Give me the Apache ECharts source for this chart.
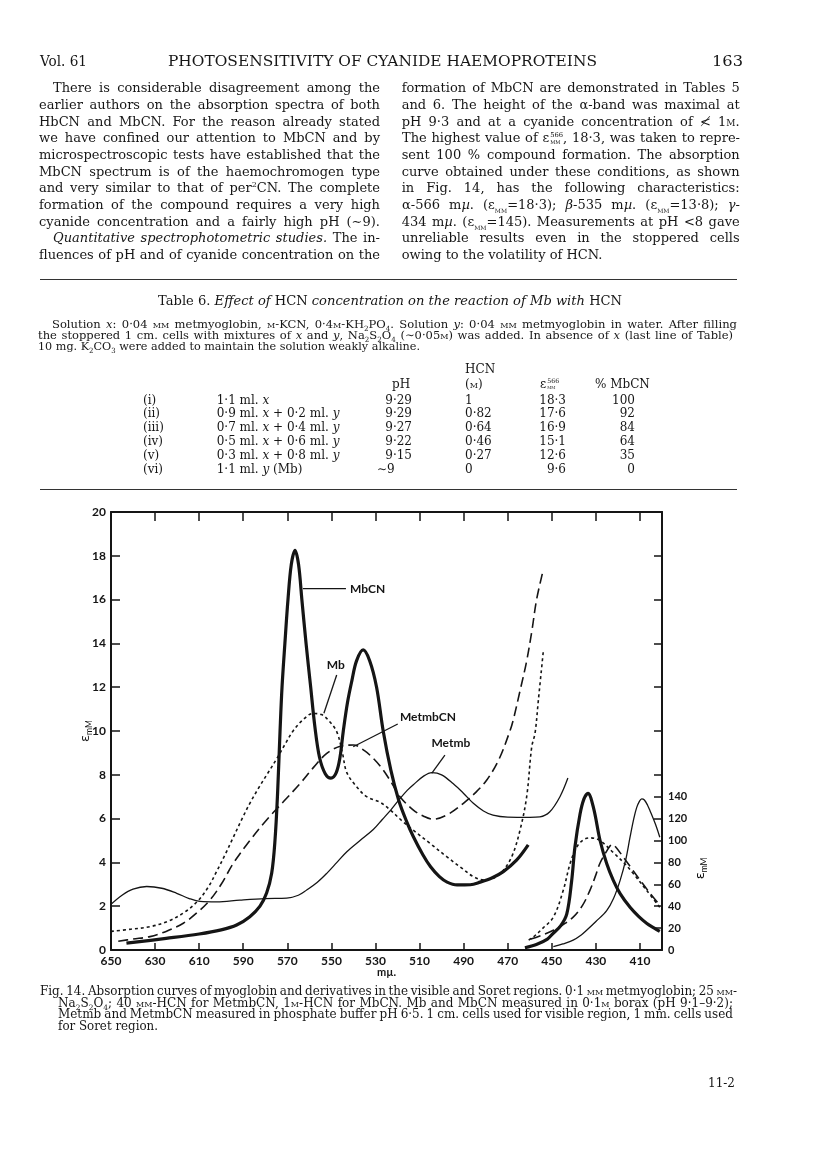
<!DOCTYPE html>
<html><head><meta charset="utf-8">
<script src="https://cdn.jsdelivr.net/npm/echarts@6/dist/echarts.min.js"></script>
<style>
html,body{margin:0;padding:0;background:#fff;}
#page{position:relative;width:816px;height:1155px;overflow:hidden;font-family:"DejaVu Serif",serif;color:#161616;background:#fff;}
#chart{position:absolute;left:0;top:0;width:816px;height:1155px;}
.ln{position:absolute;white-space:nowrap;transform-origin:0 50%;line-height:1;}
.sc{font-variant:small-caps;}
sup,sub{font-size:0.62em;line-height:0;}
.ss{display:inline-flex;flex-direction:column;font-size:0.52em;line-height:1;vertical-align:middle;margin-left:1px;}
.hr{position:absolute;height:0;border-top:1.6px solid #333;}
</style></head>
<body><div id="page"><div id="chart"></div></div>
<script>
// ---------- chart data (wavelength in mµ, εmM) ----------
const xTicks = [650,630,610,590,570,550,530,510,490,470,450,430,410];
const yLeftTicks = [0,2,4,6,8,10,12,14,16,18,20];
const yRightLabels = [0,20,40,60,80,100,120,140];
const yRightTicks = [20,40,60,80,100,120,140,160,200,240,280,320,360];

// visible region (left scale)
const mbcnVis = [[643,0.31],[625,0.53],[610,0.73],[600,0.92],[593,1.14],[587,1.52],[582.4,2.0],[579.4,2.6],[577.1,3.5],[575.6,5.0],[574.4,7.2],[573.3,10],[572.4,12],[571.1,14],[569.7,16],[568.2,17.6],[566.5,18.25],[564.9,17.6],[563.4,16],[561.5,14],[559.4,12],[557.5,10.2],[555.4,8.8],[552.8,8.05],[550.2,7.85],[547.8,8.1],[546.1,8.8],[544.6,10],[542.7,11.3],[540.7,12.3],[538.6,13.2],[535.6,13.7],[532.6,13.2],[529.5,12],[526.5,10],[523,8.2],[519.5,6.85],[516,5.9],[512.8,5.17],[508.5,4.35],[505,3.8],[501,3.35],[497.5,3.1],[493,2.97],[487,2.98],[482.5,3.1],[477,3.3],[472,3.58],[466,4.1],[460.7,4.8]];
const mbVis = [[650,0.85],[641,0.95],[632,1.07],[624,1.32],[617,1.7],[611,2.2],[606,2.85],[602,3.6],[598,4.4],[594.5,5.15],[590.5,6.0],[587,6.7],[583,7.4],[579,8.05],[575,8.7],[571,9.4],[567.4,10.0],[563,10.5],[558.5,10.8],[554.5,10.75],[551,10.45],[547.5,9.95],[545,9.0],[543,8.1],[538.5,7.45],[534,7.0],[528,6.75],[523.4,6.4],[518,5.9],[513,5.48],[505,4.85],[497.7,4.26],[491,3.75],[485.6,3.35],[481,3.2],[476,3.3],[472,3.64],[468,4.3],[464.4,5.48],[461.4,7.0],[459.1,9.28],[457.6,9.9],[456.1,11.4],[453.9,13.6]];
const metmbcnVis = [[646.7,0.4],[640,0.5],[632.3,0.61],[625,0.85],[617.2,1.22],[611,1.7],[605.1,2.28],[600,3.0],[594.5,3.96],[587,5.0],[579.4,5.94],[571.5,6.8],[564.2,7.6],[558,8.35],[552.1,8.98],[546,9.3],[540,9.36],[535,9.1],[530.5,8.7],[526.5,8.22],[522.5,7.6],[518.9,7.0],[512.8,6.39],[508,6.1],[503.8,5.97],[497,6.2],[490.1,6.7],[484.5,7.2],[479.5,7.76],[474,8.7],[469,10.0],[467.5,10.5],[464.5,11.8],[461.4,13.2],[459,14.6],[456.9,16.0],[453.9,17.35]];
const metmbVis = [[650.4,2.05],[645,2.5],[640,2.78],[633.8,2.9],[627,2.82],[620.2,2.59],[614.5,2.35],[609.6,2.22],[602,2.2],[591.5,2.28],[580,2.35],[570.3,2.37],[565,2.5],[561.2,2.74],[556.5,3.08],[552.1,3.5],[547.5,4.0],[543,4.49],[537,5.0],[531,5.5],[527,5.95],[523,6.4],[519,6.9],[515.5,7.3],[512.8,7.55],[508,7.95],[504.4,8.1],[500,8.0],[494.8,7.6],[490,7.15],[485.6,6.7],[481,6.35],[476.7,6.16],[470,6.07],[460,6.06],[455.4,6.08],[451,6.3],[446.3,7.0],[442.7,7.85]];

// Soret region (right scale)
const mbcnSor = [[462.2,2],[457,5],[452,10],[449.5,15],[446,22],[443.2,33],[441,63],[439.5,94],[437.2,124],[435.4,138],[433.6,143],[431.1,130],[428.1,100],[425.1,79],[422.1,63.6],[419,51.5],[414.5,39],[410.5,30.5],[407,24.5],[403.5,20],[401,17]];
const mbSor = [[460.5,9],[458.3,12],[454,20],[449.3,30],[444.8,54.5],[441.7,79],[438.7,94],[435.7,100.6],[432.7,102.4],[428.2,100],[422.1,89],[417,79],[413.1,70],[407,54.5],[401,39]];
const metmbcnSor = [[459.5,10],[454,14],[449.3,18],[445,23],[440.3,30],[436,41],[432.7,54.5],[430.3,67],[428.2,79],[425.8,88],[423.6,95],[422.6,96.5],[421,94],[417.6,85],[414,75],[410,64],[405.5,52],[401,41]];
const metmbSor = [[449.3,3],[445,5.5],[440.3,9],[436.5,14],[434.2,18],[430,26],[425.1,36],[422,47],[419,63.6],[416.5,82],[414.5,103],[412.8,120],[411.5,130],[410.2,136],[409.2,138],[408,137],[406.5,132],[405.4,127],[403,115],[401,103]];

// curve labels and their leader lines (data space, left scale)
const annoText = ['MbCN','Mb','MetmbCN','Metmb'];
const annoAt = [[541.6,16.47],[548.0,13.0],[518.9,10.65],[495.8,9.44]];
const annoAlign = ['left','center','left','center'];
const leaders = [[[562.9,16.5],[543.4,16.5]],[[547.6,12.56],[553.4,10.81]],[[540.1,9.28],[519.9,10.32]],[[498.5,8.9],[504.5,8.07]]];

// ---------- page text ----------
const page = document.getElementById('page');
const sc = s => '<span class="sc">'+s+'</span>';
const epsSub = 'ε<sub class="sc">mm</sub>';
const lines = [
 [40,61.5,47,14,'Vol. 61','s'],
 [168,61.5,429,14,'PHOTOSENSITIVITY OF CYANIDE HAEMOPROTEINS','s'],
 [712,61.5,31,14,'163','s'],
 [53,88.3,327,13,'There is considerable disagreement among the','j'],
 [39,105,341,13,'earlier authors on the absorption spectra of both','j'],
 [39,121.7,341,13,'HbCN and MbCN. For the reason already stated','j'],
 [39,138.3,341,13,'we have confined our attention to MbCN and by','j'],
 [39,155,341,13,'microspectroscopic tests have established that the','j'],
 [39,171.7,341,13,'MbCN spectrum is of the haemochromogen type','j'],
 [39,188.3,341,13,'and very similar to that of per<sup>2</sup>CN. The complete','j'],
 [39,205,341,13,'formation of the compound requires a very high','j'],
 [39,221.7,341,13,'cyanide concentration and a fairly high pH (∼9).','j'],
 [53,238.3,327,13,'<i>Quantitative spectrophotometric studies.</i> The in-','j'],
 [39,255,341,13,'fluences of pH and of cyanide concentration on the','j'],
 [401.7,88.3,338,13,'formation of MbCN are demonstrated in Tables 5','j'],
 [401.7,105,338,13,'and 6. The height of the α-band was maximal at','j'],
 [401.7,121.7,338,13,'pH 9·3 and at a cyanide concentration of ≮ 1'+sc('m')+'.','j'],
 [401.7,138.3,338,13,'The highest value of ε<span class="ss"><span>566</span><span class="sc">mm</span></span>, 18·3, was taken to repre-','j'],
 [401.7,155,338,13,'sent 100 % compound formation. The absorption','j'],
 [401.7,171.7,338,13,'curve obtained under these conditions, as shown','j'],
 [401.7,188.3,338,13,'in Fig. 14, has the following characteristics:','j'],
 [401.7,205,338,13,'α-566 m<i>µ</i>. ('+epsSub+'=18·3); <i>β</i>-535 m<i>µ</i>. ('+epsSub+'=13·8); <i>γ</i>-','j'],
 [401.7,221.7,338,13,'434 m<i>µ</i>. ('+epsSub+'=145). Measurements at pH &lt;8 gave','j'],
 [401.7,238.3,338,13,'unreliable results even in the stoppered cells','j'],
 [401.7,255,0,13,'owing to the volatility of HCN.','n'],
 [158,301,464,13.5,'Table 6. <i>Effect of</i> HCN <i>concentration on the reaction of Mb with</i> HCN','s'],
 [51.7,325,685,11.5,'Solution <i>x</i>: 0·04 '+sc('mm')+' metmyoglobin, '+sc('m')+'-KCN, 0·4'+sc('m')+'-KH<sub>2</sub>PO<sub>4</sub>.  Solution <i>y</i>: 0·04 '+sc('mm')+' metmyoglobin in water.  After filling','j'],
 [38,336.5,695,11.5,'the stoppered 1 cm. cells with mixtures of <i>x</i> and <i>y</i>, Na<sub>2</sub>S<sub>2</sub>O<sub>4</sub> (∼0·05'+sc('m')+') was added.  In absence of <i>x</i> (last line of Table)','j'],
 [38,347.5,382,11.5,'10 mg. K<sub>2</sub>CO<sub>3</sub> were added to maintain the solution weakly alkaline.','s'],
 [40,991.7,697,12,'Fig. 14.  Absorption curves of myoglobin and derivatives in the visible and Soret regions.  0·1 '+sc('mm')+' metmyoglobin; 25 '+sc('mm')+'-','j'],
 [58,1003,675,12,'Na<sub>2</sub>S<sub>2</sub>O<sub>4</sub>; 40 '+sc('mm')+'-HCN for MetmbCN, 1'+sc('m')+'-HCN for MbCN.  Mb and MbCN measured in 0·1'+sc('m')+' borax (pH 9·1–9·2);','j'],
 [58,1014.5,675,12,'Metmb and MetmbCN measured in phosphate buffer pH 6·5.  1 cm. cells used for visible region, 1 mm. cells used','j'],
 [58,1026,100,12,'for Soret region.','s'],
 [708,1084,27,12.5,'11-2','s']
];
// table cells: [x, y, fontSize, html, align]
const tRowsY = [400,413.8,427.6,441.4,455.2,469];
const tRoman = ['(i)','(ii)','(iii)','(iv)','(v)','(vi)'];
const tComp = ['1·1 ml. <i>x</i>','0·9 ml. <i>x</i> + 0·2 ml. <i>y</i>','0·7 ml. <i>x</i> + 0·4 ml. <i>y</i>','0·5 ml. <i>x</i> + 0·6 ml. <i>y</i>','0·3 ml. <i>x</i> + 0·8 ml. <i>y</i>','1·1 ml. <i>y</i> (Mb)'];
const tPH = ['9·29','9·29','9·27','9·22','9·15','∼9'];
const tHCN = ['1','0·82','0·64','0·46','0·27','0'];
const tEps = ['18·3','17·6','16·9','15·1','12·6','9·6'];
const tPct = ['100','92','84','64','35','0'];
const cells = [
 [465,369,12,'HCN','l'],[392,384,12,'pH','l'],[465,384,12,'('+sc('m')+')','l'],
 [540,384,12,'ε<span class="ss"><span>566</span><span class="sc">mm</span></span>','l'],[595,384,12,'% MbCN','l']
];
tRowsY.forEach((y,i)=>{
 cells.push([143,y,12,tRoman[i],'l']);
 cells.push([216.7,y,12,tComp[i],'l']);
 if(i<5) cells.push([412,y,12,tPH[i],'r']); else cells.push([377,y,12,tPH[i],'l']);
 cells.push([465,y,12,tHCN[i],'l']);
 cells.push([566,y,12,tEps[i],'r']);
 cells.push([635,y,12,tPct[i],'r']);
});

function mkDiv(x,y,fs,html){
 const d=document.createElement('div'); d.className='ln';
 d.style.left=x+'px'; d.style.fontSize=fs+'px'; d.style.top=(y-0.53*fs)+'px';
 d.innerHTML=html; page.appendChild(d); return d;
}
lines.forEach(L=>{
 const d=mkDiv(L[0],L[1],L[3],L[4]); const W=L[2];
 if(L[5]==='n' || !W) return;
 let w=d.getBoundingClientRect().width;
 if(L[5]==='j'){
  const n=(d.textContent.match(/ /g)||[]).length;
  let ws=n?(W-w)/n:0; if(ws<-1.2) ws=-1.2; if(ws>8) ws=8;
  d.style.wordSpacing=ws+'px'; w=d.getBoundingClientRect().width;
 }
 d.style.transform='scaleX('+(W/w)+')';
});
cells.forEach(C=>{
 const d=mkDiv(C[0],C[1],C[2],C[3]);
 if(C[4]==='r'){ const w=d.getBoundingClientRect().width; d.style.left=(C[0]-w)+'px'; }
});
[[40,278.5,697],[40,489,697]].forEach(h=>{
 const d=document.createElement('div'); d.className='hr';
 d.style.left=h[0]+'px'; d.style.top=h[1]+'px'; d.style.width=h[2]+'px'; page.appendChild(d);
});

// ---------- chart ----------
const ink='#151515';
const chart=echarts.init(document.getElementById('chart'),null,{renderer:'canvas'});
const lbl={fontFamily:'Lato',fontWeight:'bold',fontSize:12,color:ink};
const nameRich={e:{fontFamily:'DejaVu Sans',fontSize:13,color:ink,lineHeight:16},s:{fontFamily:'Lato',fontSize:8.5,color:ink,verticalAlign:'bottom',lineHeight:13}};
const axLine={show:true,onZero:false,lineStyle:{color:ink,width:2}};
function curve(data,yIdx,width,type){
 return {type:'line',data:data,xAxisIndex:0,yAxisIndex:yIdx,smooth:0.35,symbol:'none',silent:true,
  lineStyle:{color:ink,width:width,type:type,cap:'butt',join:'round'}};
}
const series=[
 curve(metmbVis,0,1.3,'solid'), curve(metmbcnVis,0,1.6,[10,5]), curve(mbVis,0,1.6,[3,3]), curve(mbcnVis,0,3.2,'solid'),
 curve(metmbSor,1,1.3,'solid'), curve(metmbcnSor,1,1.6,[10,5]), curve(mbSor,1,1.6,[3,3]), curve(mbcnSor,1,3.2,'solid')
];
leaders.forEach(seg=>series.push({type:'line',data:seg,xAxisIndex:0,yAxisIndex:0,symbol:'none',silent:true,lineStyle:{color:ink,width:1.3}}));
series.push({type:'scatter',xAxisIndex:0,yAxisIndex:0,symbolSize:1,itemStyle:{color:'rgba(0,0,0,0)'},silent:true,
 data:annoAt.map((p,i)=>({value:p,label:{show:true,formatter:annoText[i],position:'inside',align:annoAlign[i],verticalAlign:'middle',
  fontFamily:'Lato',fontSize:12,fontWeight:'bold',color:ink,textBorderWidth:0,opacity:1}}))});
chart.setOption({
 animation:false,
 grid:{left:111,top:512,width:551,height:438,containLabel:false},
 xAxis:[
  {type:'value',min:400,max:650,inverse:true,position:'bottom',axisLine:axLine,
   axisTick:{show:true,inside:true,length:7,customValues:xTicks,lineStyle:{color:ink,width:1.5}},
   axisLabel:Object.assign({show:true,customValues:xTicks,margin:5},lbl),splitLine:{show:false},
   name:'mµ.',nameLocation:'middle',nameGap:17,nameMoveOverlap:false,nameTextStyle:{fontFamily:'Lato',fontSize:11,fontWeight:'bold',color:ink}},
  {type:'value',min:400,max:650,inverse:true,position:'top',axisLine:axLine,
   axisTick:{show:true,inside:true,length:9,customValues:xTicks,lineStyle:{color:ink,width:1.5}},
   axisLabel:{show:false},splitLine:{show:false}}
 ],
 yAxis:[
  {type:'value',min:0,max:20,interval:2,position:'left',axisLine:axLine,
   axisTick:{show:true,inside:true,length:9,lineStyle:{color:ink,width:1.5}},
   axisLabel:Object.assign({margin:5},lbl),splitLine:{show:false},
   name:'{e|ε}{s|mM}',nameLocation:'middle',nameGap:17,nameMoveOverlap:false,nameRotate:90,nameTextStyle:{rich:nameRich}},
  {type:'value',min:0,max:400,position:'right',axisLine:axLine,
   axisTick:{show:true,inside:true,length:8,customValues:yRightTicks,lineStyle:{color:ink,width:1.5}},
   axisLabel:Object.assign({customValues:yRightLabels,margin:6},lbl,{fontSize:11}),splitLine:{show:false}}
 ],
 series:series
});
const ny=chart.convertToPixel({yAxisIndex:1},74.5);
const nx=chart.convertToPixel({xAxisIndex:0},382.3);
chart.setOption({graphic:[{type:'text',x:nx,y:ny,rotation:Math.PI/2,silent:true,
 style:{text:'{e|ε}{s|mM}',rich:nameRich,align:'center',verticalAlign:'middle'}}]});
</script>
</body></html>
